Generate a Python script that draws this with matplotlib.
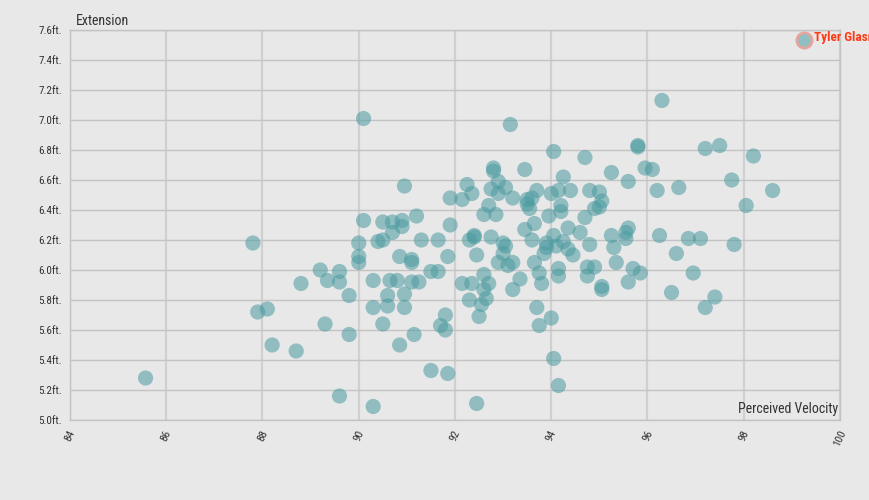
import matplotlib
matplotlib.use("Agg")
import matplotlib.pyplot as plt

velocity = [85.57, 87.8, 87.9, 88.1, 88.2, 88.7, 88.8, 89.2, 89.3, 89.35, 89.6, 89.6, 89.8, 89.8, 89.6,
            90.0, 90.0, 90.0, 90.1, 90.1, 90.3, 90.3, 90.3, 90.4, 90.5, 90.5, 90.5, 90.6, 90.6, 90.65,
            90.7, 90.7, 90.8, 90.85, 90.85, 90.9, 90.9, 90.95, 90.95, 90.95, 91.1, 91.1, 91.1, 91.15,
            91.2, 91.25, 91.3, 91.5, 91.5, 91.65, 91.65, 91.7, 91.8, 91.8, 91.85, 91.85, 91.9, 91.9,
            92.15, 92.15, 92.25, 92.3, 92.3, 92.35, 92.35, 92.4, 92.4, 92.45, 92.45, 92.5, 92.55, 92.6,
            92.6, 92.65, 92.6, 92.7, 92.7, 92.75, 92.75, 92.8, 92.8, 92.85, 92.9, 92.9, 92.9, 93.0,
            93.0, 93.05, 93.05, 93.1, 93.15, 93.2, 93.2, 93.2, 93.35, 93.45, 93.45, 93.5, 93.5, 93.55,
            93.6, 93.6, 93.65, 93.65, 93.7, 93.7, 93.75, 93.75, 93.8, 93.85, 93.9, 93.9, 93.95, 94.0,
            94.0, 94.05, 94.05, 94.05, 94.1, 94.15, 94.15, 94.15, 94.15, 94.2, 94.2, 94.25, 94.25,
            94.35, 94.35, 94.4, 94.45, 94.6, 94.7, 94.7, 94.75, 94.75, 94.8, 94.8, 94.9, 94.9, 95.0,
            95.0, 95.05, 95.05, 95.05, 95.25, 95.25, 95.3, 95.35, 95.55, 95.55, 95.6, 95.6, 95.6, 95.7,
            95.8, 95.8, 95.85, 95.95, 96.1, 96.2, 96.25, 96.3, 96.5, 96.6, 96.65, 96.85, 96.95, 97.1,
            97.2, 97.2, 97.4, 97.5, 97.75, 97.8, 98.05, 98.2, 98.6]
extension = [5.28, 6.18, 5.72, 5.74, 5.5, 5.46, 5.91, 6.0, 5.64, 5.93, 5.99, 5.92, 5.83, 5.57, 5.16,
             6.09, 6.18, 6.05, 7.01, 6.33, 5.09, 5.93, 5.75, 6.19, 5.64, 6.32, 6.2, 5.83, 5.76, 5.93,
             6.32, 6.25, 5.93, 5.5, 6.09, 6.29, 6.33, 5.84, 5.75, 6.56, 6.05, 6.07, 5.92, 5.57,
             6.36, 5.92, 6.2, 5.33, 5.99, 5.99, 6.2, 5.63, 5.70, 5.6, 5.31, 6.09, 6.3, 6.48,
             5.91, 6.47, 6.57, 5.8, 6.2, 6.51, 5.91, 6.23, 6.22, 5.11, 6.1, 5.69, 5.77, 5.87,
             5.97, 5.81, 6.37, 6.43, 5.91, 6.22, 6.54, 6.66, 6.68, 6.37, 6.59, 6.51, 6.05, 6.18,
             6.11, 6.16, 6.55, 6.03, 6.97, 6.05, 5.87, 6.48, 5.94, 6.67, 6.27, 6.44, 6.47, 6.41,
             6.48, 6.2, 6.31, 6.05, 6.53, 5.75, 5.63, 5.98, 5.91, 6.11, 6.15, 6.18, 6.36, 6.51,
             5.68, 6.23, 6.79, 5.41, 6.16, 5.23, 6.53, 5.96, 6.01, 6.39, 6.43, 6.19, 6.62,
             6.14, 6.28, 6.53, 6.1, 6.25, 6.35, 6.75, 5.96, 6.02, 6.17, 6.53, 6.41, 6.02, 6.52,
             6.42, 5.89, 6.46, 5.87, 6.65, 6.23, 6.15, 6.05, 6.25, 6.21, 6.59, 5.92, 6.28, 6.01,
             6.83, 6.82, 5.98, 6.68, 6.67, 6.53, 6.23, 7.13, 5.85, 6.11, 6.55, 6.21, 5.98, 6.21,
             5.75, 6.81, 5.82, 6.83, 6.60, 6.17, 6.43, 6.76, 6.53]

highlight_name = "Tyler Glasnow"
highlight_velocity = 99.25
highlight_extension = 7.53

x_ticks = [84, 86, 88, 90, 92, 94, 96, 98, 100]
y_ticks = [5.0, 5.2, 5.4, 5.6, 5.8, 6.0, 6.2, 6.4, 6.6, 6.8, 7.0, 7.2, 7.4, 7.6]

fam = ["Roboto Condensed", "Roboto", "DejaVu Sans"]
bg = "#e8e8e8"
fig = plt.figure(figsize=(8.7, 5.0), dpi=100, facecolor=bg)
ax = fig.add_axes([70/870, 80/500, 770/870, 390/500])
ax.set_facecolor(bg)

ax.set_xlim(84, 100)
ax.set_ylim(5.0, 7.6)

for xv in x_ticks:
    ax.axvline(xv, color="#d0d0d0", lw=1.6, zorder=0)
for yv in y_ticks:
    ax.axhline(yv, color="#c3c3c3", lw=1.0, zorder=0.5)
for s in ax.spines.values():
    s.set_color("#c3c3c3")
    s.set_linewidth(1.0)

ax.scatter(velocity, extension, s=120, color="#4a9ba0", alpha=0.55, edgecolors="none", zorder=2)
ax.scatter([highlight_velocity], [highlight_extension], s=120, color="#8fbfc1",
           edgecolors="#e6a59c", linewidths=2, zorder=3)
ax.text(highlight_velocity + 0.2, highlight_extension + 0.02, highlight_name, color="#ff3a14",
        fontsize=9.5, fontweight="bold", family=fam,
        va="center", ha="left", clip_on=False)

ax.set_xticks(x_ticks)
ax.set_xticklabels([str(v) for v in x_ticks], rotation=65, ha="center",
                   family=fam, fontsize=8, color="#333333")
ax.set_yticks(y_ticks)
ax.set_yticklabels([f"{v:.1f}ft." for v in y_ticks],
                   family=fam, fontsize=8, color="#333333")
ax.tick_params(length=0, pad=6)

ax.text(0.007, 1.005, "Extension", transform=ax.transAxes, ha="left", va="bottom",
        fontsize=10, color="#333333", family=fam)
ax.text(0.997, 0.01, "Perceived Velocity", transform=ax.transAxes, ha="right", va="bottom",
        fontsize=10, color="#333333", family=fam)

fig.savefig("out.png", dpi=100, facecolor=bg)
